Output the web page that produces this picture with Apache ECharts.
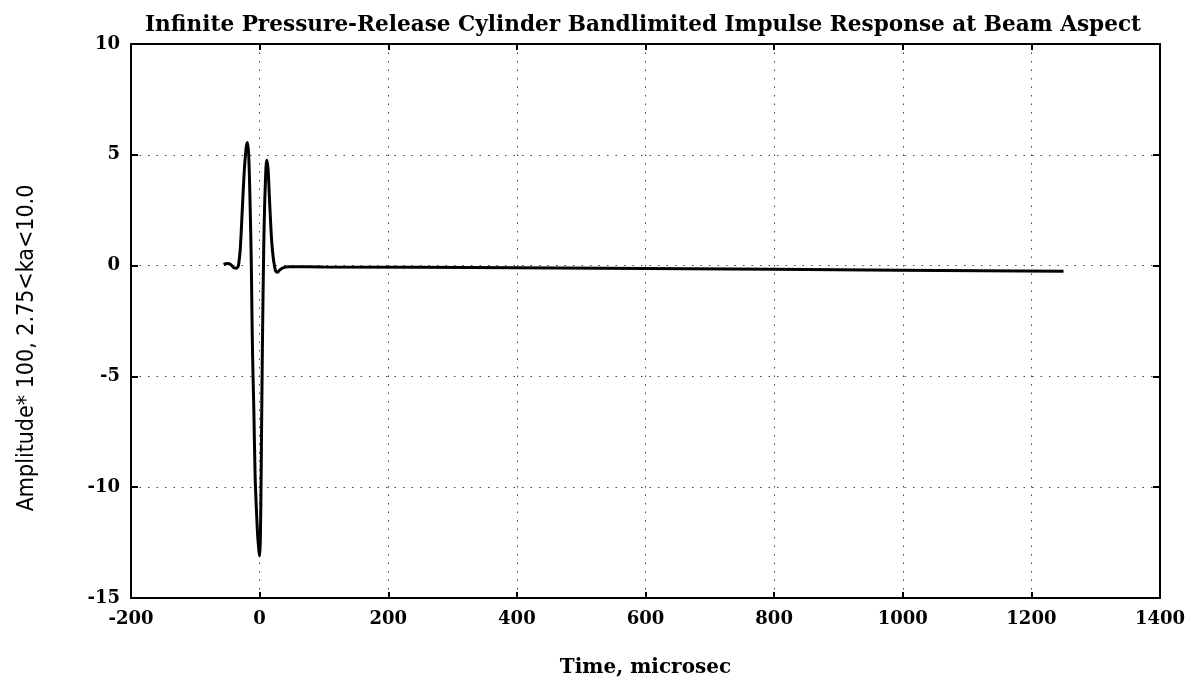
<!DOCTYPE html>
<html>
<head>
<meta charset="utf-8">
<script src="https://cdn.jsdelivr.net/npm/echarts@6/dist/echarts.min.js"></script>
<style>html,body{margin:0;padding:0;background:#fff}#c{width:1204px;height:683px}</style>
</head>
<body>
<div id="c"></div>
<script>
const titleText = 'Infinite Pressure-Release Cylinder Bandlimited Impulse Response at Beam Aspect';
const xLabel = 'Time, microsec';
const yLabel = 'Amplitude* 100, 2.75<ka<10.0';
const xTicks = [-200, 0, 200, 400, 600, 800, 1000, 1200, 1400];
const yTicks = [-15, -10, -5, 0, 5, 10];
const timeUs = [-56, -50, -45, -40, -36, -33, -30, -27, -24, -21, -19, -17, -15, -13, -12, -11, -9, -7, -5, -3, -1, 0, 1, 2, 3, 4, 5, 6, 7, 9, 11, 13, 15, 17, 19, 21, 23, 25, 28, 31, 36, 45, 100, 400, 800, 1250];
const amplitude = [0.05, 0.1, 0.05, -0.1, -0.12, 0.0, 0.8, 2.5, 4.2, 5.3, 5.55, 5.0, 3.0, 0.2, -2.0, -4.0, -6.5, -9.5, -11.0, -12.2, -12.9, -13.1, -12.5, -10.5, -7.5, -4.5, -2.0, 0.0, 1.8, 3.8, 4.75, 4.4, 3.2, 2.0, 1.0, 0.4, 0.0, -0.25, -0.3, -0.2, -0.1, -0.05, -0.06, -0.1, -0.17, -0.25];

const serif = 'DejaVu Serif';
const chart = echarts.init(document.getElementById('c'));
const gridStyle = {show: true, lineStyle: {color: '#444', width: 1, type: [1.5, 7]}};
const axisLineStyle = {show: true, onZero: false, lineStyle: {color: '#000', width: 2}};
const plain = v => String(v);
chart.setOption({
  backgroundColor: '#fff',
  animation: false,
  title: {
    text: titleText, left: 140, top: 9,
    textStyle: {fontFamily: serif, fontWeight: 'bold', fontSize: 21.6, color: '#000'}
  },
  grid: {left: 131, right: 44, top: 44, bottom: 83},
  xAxis: [{
    type: 'value', min: xTicks[0], max: xTicks[xTicks.length - 1], interval: 200,
    position: 'bottom',
    axisLine: axisLineStyle,
    axisTick: {show: true, inside: true, length: 6, lineStyle: {color: '#000', width: 2}},
    axisLabel: {margin: 12, fontFamily: serif, fontWeight: 'bold', fontSize: 18, color: '#000', formatter: plain},
    splitLine: gridStyle,
    name: xLabel, nameLocation: 'middle', nameGap: 60,
    nameTextStyle: {fontFamily: serif, fontWeight: 'bold', fontSize: 20, color: '#000'}
  }, {
    type: 'value', min: xTicks[0], max: xTicks[xTicks.length - 1], interval: 200,
    position: 'top',
    axisLine: axisLineStyle,
    axisTick: {show: true, inside: true, length: 6, lineStyle: {color: '#000', width: 2}},
    axisLabel: {show: false}, splitLine: {show: false}
  }],
  yAxis: [{
    type: 'value', min: yTicks[0], max: yTicks[yTicks.length - 1], interval: 5,
    position: 'left',
    axisLine: axisLineStyle,
    axisTick: {show: true, inside: true, length: 7, lineStyle: {color: '#000', width: 2}},
    axisLabel: {margin: 11, fontFamily: serif, fontWeight: 'bold', fontSize: 18, color: '#000', formatter: plain},
    splitLine: gridStyle
  }, {
    type: 'value', min: yTicks[0], max: yTicks[yTicks.length - 1], interval: 5,
    position: 'right',
    axisLine: axisLineStyle,
    axisTick: {show: true, inside: true, length: 7, lineStyle: {color: '#000', width: 2}},
    axisLabel: {show: false}, splitLine: {show: false}
  }],
  graphic: [{
    type: 'text', x: 27, y: 348, rotation: Math.PI / 2,
    style: {
      text: yLabel, textAlign: 'center', textVerticalAlign: 'middle',
      font: '23px "Liberation Sans Narrow", "DejaVu Sans Condensed", sans-serif', fill: '#000'
    }
  }],
  series: [{
    type: 'line', xAxisIndex: 0, yAxisIndex: 0,
    data: timeUs.map((t, i) => [t, amplitude[i]]),
    showSymbol: false, smooth: 0.3,
    lineStyle: {color: '#000', width: 3}
  }]
});
</script>
</body>
</html>
